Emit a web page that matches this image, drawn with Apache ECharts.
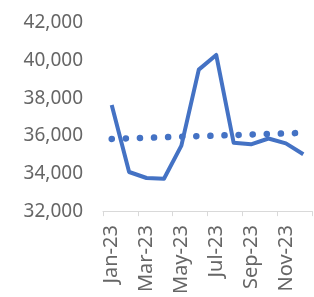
<!DOCTYPE html>
<html>
<head>
<meta charset="utf-8">
<script src="https://cdn.jsdelivr.net/npm/echarts@6/dist/echarts.min.js"></script>
<style>
  html, body { margin: 0; padding: 0; background: #fff; }
  #chart { width: 314px; height: 297px; }
</style>
</head>
<body>
<div id="chart"></div>
<script>
// monthly values
const months = ['Jan-23', 'Feb-23', 'Mar-23', 'Apr-23', 'May-23', 'Jun-23',
                'Jul-23', 'Aug-23', 'Sep-23', 'Oct-23', 'Nov-23', 'Dec-23'];
const values = [37640, 34080, 33760, 33720, 35480, 39520,
                40300, 35640, 35550, 35860, 35600, 35020];
// dotted trend line: only its two ends are read, the rest is joined
const trend = [35840, null, null, null, null, null,
               null, null, null, null, null, 36160];
const yTicks = { min: 32000, max: 42000, step: 2000 };

const chart = echarts.init(document.getElementById('chart'));
const blue = '#4472C4';
const grey = '#666666';

chart.setOption({
    animation: false,
    grid: { left: 103, right: 2, top: 23, bottom: 84, containLabel: false },
    xAxis: {
        type: 'category',
        data: months,
        boundaryGap: true,
        axisLine: { show: true, lineStyle: { color: '#d9d9d9', width: 1 } },
        axisTick: { show: true, interval: 1, length: 5, lineStyle: { color: '#d9d9d9' } },
        axisLabel: {
            interval: 1,
            rotate: 90,
            margin: 14,
            color: grey,
            fontFamily: 'Noto Sans',
            fontSize: 20
        },
        splitLine: { show: false }
    },
    yAxis: {
        type: 'value',
        min: yTicks.min,
        max: yTicks.max,
        interval: yTicks.step,
        axisLine: { show: false },
        axisTick: { show: false },
        splitLine: { show: false },
        axisLabel: {
            margin: 20,
            color: grey,
            fontFamily: 'Noto Sans',
            fontSize: 19,
            formatter: v => v.toLocaleString('en-US')
        }
    },
    series: [
        {
            type: 'line',
            data: values,
            symbol: 'none',
            lineStyle: { color: blue, width: 4, join: 'round' }
        },
        {
            type: 'line',
            data: trend,
            connectNulls: true,
            symbol: 'none',
            lineStyle: { color: blue, width: 6.5, type: [0.1, 14], cap: 'round' }
        }
    ]
});
</script>
</body>
</html>
